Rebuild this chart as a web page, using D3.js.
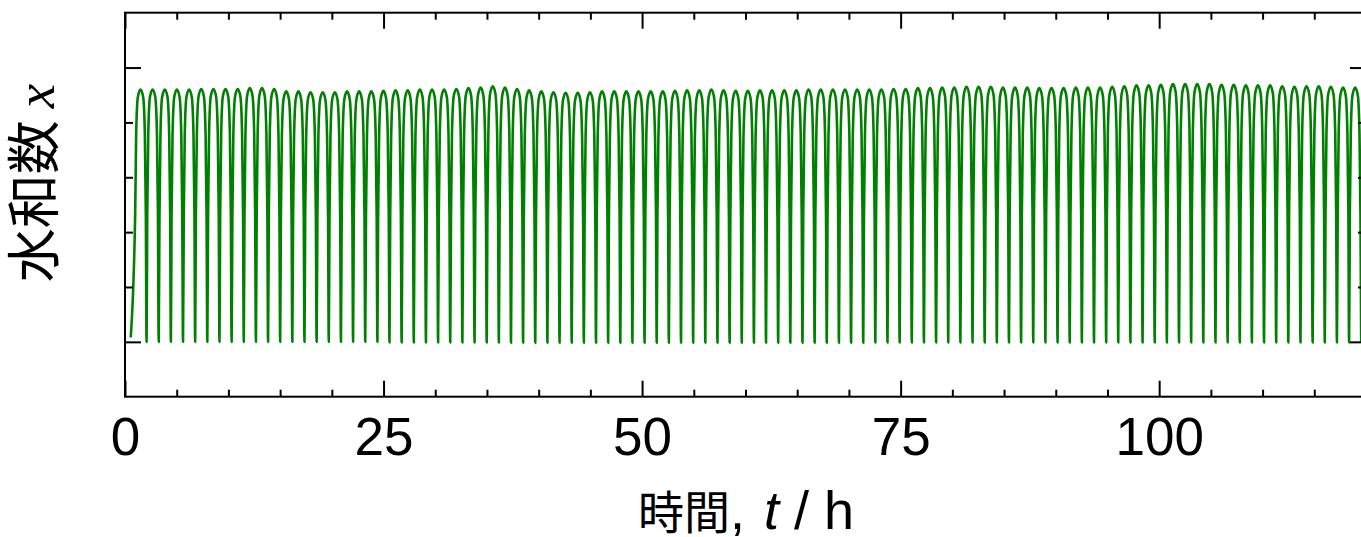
<!DOCTYPE html>
<html>
<head>
<meta charset="utf-8">
<script src="https://d3js.org/d3.v7.min.js"></script>
<style>
  body { margin: 0; background: #fff; }
  svg { display: block; }
</style>
</head>
<body>
<svg id="myPlot" width="1361" height="537"></svg>

<script>
// ---- data ----
// first point of the trace (t, x)
const startT = 0.55;
const startX = 0.016;

// time of every peak (h)
const peakT = [
  1.50, 2.67, 3.85, 5.02, 6.20, 7.37, 8.55, 9.72, 10.90, 12.07,
  13.25, 14.42, 15.59, 16.77, 17.94, 19.12, 20.29, 21.47, 22.64, 23.82,
  24.99, 26.16, 27.34, 28.51, 29.69, 30.86, 32.04, 33.21, 34.39, 35.56,
  36.74, 37.91, 39.08, 40.26, 41.43, 42.61, 43.78, 44.96, 46.13, 47.31,
  48.48, 49.65, 50.83, 52.00, 53.18, 54.35, 55.53, 56.70, 57.88, 59.05,
  60.23, 61.40, 62.57, 63.75, 64.92, 66.10, 67.27, 68.45, 69.62, 70.80,
  71.97, 73.14, 74.32, 75.49, 76.67, 77.84, 79.02, 80.19, 81.37, 82.54,
  83.72, 84.89, 86.06, 87.24, 88.41, 89.59, 90.76, 91.94, 93.11, 94.29,
  95.46, 96.63, 97.81, 98.98, 100.16, 101.33, 102.51, 103.68, 104.86, 106.03,
  107.21, 108.38, 109.55, 110.73, 111.90, 113.08, 114.25, 115.43, 116.60, 117.78,
  118.95
];

// height of every peak
const peakX = [
  0.920, 0.920, 0.920, 0.920, 0.920, 0.922, 0.922, 0.922, 0.922, 0.925,
  0.925, 0.922, 0.913, 0.913, 0.910, 0.910, 0.910, 0.913, 0.913, 0.913,
  0.915, 0.917, 0.917, 0.920, 0.920, 0.920, 0.922, 0.925, 0.927, 0.932,
  0.927, 0.922, 0.917, 0.913, 0.910, 0.908, 0.908, 0.910, 0.913, 0.913,
  0.913, 0.913, 0.913, 0.913, 0.915, 0.917, 0.917, 0.920, 0.917, 0.915,
  0.915, 0.917, 0.917, 0.917, 0.917, 0.920, 0.920, 0.920, 0.920, 0.920,
  0.920, 0.920, 0.922, 0.922, 0.925, 0.925, 0.927, 0.927, 0.930, 0.930,
  0.930, 0.927, 0.927, 0.927, 0.925, 0.925, 0.925, 0.927, 0.927, 0.927,
  0.930, 0.932, 0.935, 0.935, 0.937, 0.940, 0.940, 0.940, 0.940, 0.937,
  0.937, 0.935, 0.935, 0.935, 0.932, 0.930, 0.932, 0.932, 0.930, 0.927,
  0.927
];

// depth of the trough that follows each peak
const troughX = [
  0.000, 0.000, 0.000, 0.000, 0.000, 0.000, 0.000, 0.000, 0.000, 0.000,
  0.000, 0.000, 0.000, 0.000, 0.000, 0.000, 0.000, 0.000, 0.000, 0.000,
  -0.002, -0.002, -0.002, -0.002, -0.002, -0.002, -0.002, -0.002, -0.002, -0.002,
  -0.003, -0.003, -0.003, -0.003, -0.003, -0.003, -0.003, -0.003, -0.003, -0.003,
  -0.003, -0.003, -0.003, -0.003, -0.003, -0.003, -0.003, -0.003, -0.003, -0.003,
  -0.003, -0.003, -0.003, -0.003, -0.003, -0.003, -0.003, -0.003, -0.003, -0.003,
  -0.002, -0.002, -0.002, -0.002, -0.002, -0.002, -0.002, -0.002, -0.002, -0.002,
  -0.002, -0.002, -0.002, -0.002, -0.002, -0.002, -0.002, -0.002, -0.002, -0.002,
  -0.002, -0.002, -0.002, -0.002, -0.002, -0.002, -0.002, -0.002, -0.002, -0.002,
  -0.002, -0.002, -0.002, -0.002, -0.002, -0.002, -0.002, -0.002, -0.002, -0.002,
  -0.002
];

// shape of one cycle, read from a zoomed cycle:
// position in cycles relative to the peak, and fraction of the swing
const shapePhase = [-0.44, -0.36, -0.22, 0, 0.22, 0.36, 0.44];
const shapeFrac  = [0.50, 0.82, 0.97, 1, 0.97, 0.82, 0.50];

// axis ticks
const xMajor = [0, 25, 50, 75, 100];
const xMinor = [5, 10, 15, 20, 30, 35, 40, 45, 55, 60, 65, 70, 80, 85, 90, 95, 105, 110, 115];
const yMajor = [0, 1];
const yMinor = [0.2, 0.4, 0.6, 0.8];

// ---- layout ----
const plotL = 125, plotR = 1366, plotT = 12.7, plotB = 396.7;

const svg = d3.select("#myPlot");

const xScale = d3.scaleLinear().domain([0, 120]).range([plotL, plotR]);
const yScale = d3.scaleLinear().domain([-0.2, 1.2]).range([plotB, plotT]);

// build the trace points
const pts = [[startT, startX]];
peakT.forEach(function(t, k) {
  const prev = k > 0 ? peakT[k - 1] : null;
  const next = k < peakT.length - 1 ? peakT[k + 1] : null;
  const per = (prev !== null && next !== null) ? (next - prev) / 2 : (next !== null ? next - t : t - prev);
  const qPrev = k > 0 ? troughX[k - 1] : startX;
  const qNext = troughX[k];
  shapePhase.forEach(function(ph, j) {
    const q = ph < 0 ? qPrev : qNext;
    pts.push([t + ph * per, q + (peakX[k] - q) * shapeFrac[j]]);
  });
  const tt = next !== null ? (t + next) / 2 : t + per / 2;
  pts.push([tt, qNext]);
});

// clip
svg.append("clipPath").attr("id", "clip")
  .append("rect")
  .attr("x", plotL).attr("y", plotT)
  .attr("width", plotR - plotL).attr("height", plotB - plotT);

const line = d3.line()
  .x(function(d) { return xScale(d[0]); })
  .y(function(d) { return yScale(d[1]); })
  .curve(d3.curveMonotoneX);

svg.append("path")
  .datum(pts)
  .attr("clip-path", "url(#clip)")
  .attr("fill", "none")
  .attr("stroke", "#008000")
  .attr("stroke-width", 2.6)
  .attr("stroke-linejoin", "round")
  .attr("d", line);

// ---- axes (ticks point inward) ----
function noLabels(ax) { return ax.tickFormat("").tickSizeOuter(0); }

// bottom
svg.append("g").attr("transform", "translate(0," + plotB + ")")
  .call(noLabels(d3.axisBottom(xScale).tickValues(xMinor).tickSizeInner(-7)));
const xLab = svg.append("g").attr("transform", "translate(0," + plotB + ")")
  .call(d3.axisBottom(xScale).tickValues(xMajor).tickSizeInner(-16).tickSizeOuter(0).tickPadding(21));
// top
svg.append("g").attr("transform", "translate(0," + plotT + ")")
  .call(noLabels(d3.axisTop(xScale).tickValues(xMinor).tickSizeInner(-7)));
svg.append("g").attr("transform", "translate(0," + plotT + ")")
  .call(noLabels(d3.axisTop(xScale).tickValues(xMajor).tickSizeInner(-16)));
// left
svg.append("g").attr("transform", "translate(" + plotL + ",0)")
  .call(noLabels(d3.axisLeft(yScale).tickValues(yMinor).tickSizeInner(-8)));
svg.append("g").attr("transform", "translate(" + plotL + ",0)")
  .call(noLabels(d3.axisLeft(yScale).tickValues(yMajor).tickSizeInner(-16)));
// right
svg.append("g").attr("transform", "translate(" + plotR + ",0)")
  .call(noLabels(d3.axisRight(yScale).tickValues(yMinor).tickSizeInner(-8)));
svg.append("g").attr("transform", "translate(" + plotR + ",0)")
  .call(noLabels(d3.axisRight(yScale).tickValues(yMajor).tickSizeInner(-16)));

svg.selectAll(".domain").remove();
svg.selectAll(".tick line").attr("stroke", "#000").attr("stroke-width", 2);

xLab.selectAll("text")
  .attr("fill", "#000")
  .style("font-family", "'Liberation Sans', Arial, sans-serif")
  .style("font-size", "53px");

// frame
svg.append("rect")
  .attr("x", plotL).attr("y", plotT)
  .attr("width", plotR - plotL).attr("height", plotB - plotT)
  .attr("fill", "none")
  .attr("stroke", "#000")
  .attr("stroke-width", 2);

// ---- axis titles ----
const xTitle = svg.append("text")
  .attr("x", 746)
  .attr("y", 529)
  .attr("text-anchor", "middle")
  .style("white-space", "pre")
  .style("font-family", "'Liberation Sans', Arial, sans-serif")
  .style("font-size", "54px");
xTitle.append("tspan").text("時間").style("font-family", "'Noto Sans CJK JP', sans-serif").style("font-size", "46px");
xTitle.append("tspan").text(", ");
xTitle.append("tspan").text("t").attr("dx", 4).style("font-style", "italic");
xTitle.append("tspan").text(" / h");

const yTitle = svg.append("text")
  .attr("transform", "translate(54,183) rotate(-90)")
  .attr("text-anchor", "middle")
  .style("white-space", "pre")
  .style("font-family", "'Noto Sans CJK JP', sans-serif")
  .style("font-size", "54px");
yTitle.append("tspan").text("水和数 ");
yTitle.append("tspan").text("x")
  .style("font-family", "'Liberation Serif', 'Times New Roman', serif")
  .style("font-style", "italic")
  .style("font-size", "55px");
</script>
</body>
</html>
